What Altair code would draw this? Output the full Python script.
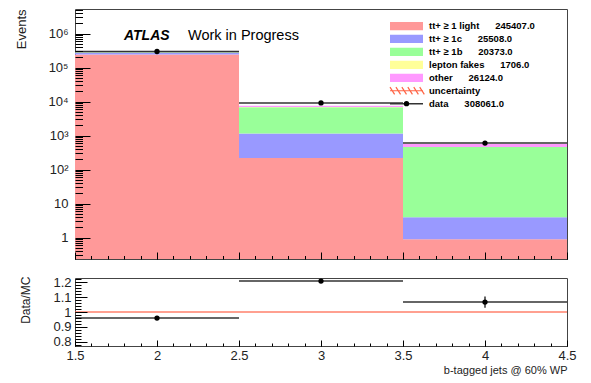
import altair as alt
import pandas as pd

FONT = "Liberation Sans"

# ---------------- data ----------------
bin_lo = [1.5, 2.5, 3.5]
bin_hi = [2.5, 3.5, 4.5]
bin_center = [2.0, 3.0, 4.0]

components = ["tt+ ≥ 1 light", "tt+ ≥ 1c", "tt+ ≥ 1b", "lepton fakes", "other"]
component_totals = ["245407.0", "25508.0", "20373.0", "1706.0", "26124.0"]
colors = ["#ff9999", "#9999ff", "#99ff99", "#ffff99", "#ff99ff"]

light = [245186, 220, 0.9]
one_c = [24575, 930, 3.1]
one_b = [14165, 5750, 458]
fakes = [1653, 50, 3]
other = [25372, 650, 102]

data_counts = [298266, 9190, 605]
data_total = "308061.0"

ratio = [0.959, 1.209, 1.067]
ratio_err = [0.002, 0.013, 0.038]

x_major = [1.5, 2.0, 2.5, 3.0, 3.5, 4.0, 4.5]
y_major = [1, 10, 100, 1e3, 1e4, 1e5, 1e6]
r_major = [0.8, 0.9, 1.0, 1.1, 1.2]

# ---------------- derived tables ----------------
Y_DOM = [0.236, 5.3e6]
R_DOM = [0.77, 1.23]
series = [light, one_c, one_b, fakes, other]

stack_rows = []
for b in range(3):
    cum = 0.0
    for name, vals in zip(components, series):
        bottom = cum if cum > 0 else 1e-3
        cum += vals[b]
        stack_rows.append(dict(lo=bin_lo[b], hi=bin_hi[b], y0=bottom, y1=cum, comp=name))
stack_df = pd.DataFrame(stack_rows)

data_df = pd.DataFrame({
    "lo": bin_lo, "hi": bin_hi, "x": bin_center, "n": data_counts,
    "nlo": [v - v ** 0.5 for v in data_counts], "nhi": [v + v ** 0.5 for v in data_counts],
})
ratio_df = pd.DataFrame({
    "lo": bin_lo, "hi": bin_hi, "x": bin_center, "r": ratio,
    "rlo": [r - e for r, e in zip(ratio, ratio_err)],
    "rhi": [r + e for r, e in zip(ratio, ratio_err)],
})
one_df = pd.DataFrame({"x": [x_major[0]], "x2": [x_major[-1]], "y": [1.0]})

NB = "\u00a0" * 6
legend_labels = [c + NB + t for c, t in zip(components, component_totals)] + ["uncertainty", "data" + NB + data_total]
legend_df = pd.DataFrame({"row": list(range(7)), "label": legend_labels,
                          "comp": components + ["uncertainty", "data"]})

x_minor = [round(1.5 + 0.1 * i, 2) for i in range(31)]
y_minor = [k * 10 ** n for n in range(-1, 7) for k in range(2, 10) if Y_DOM[0] <= k * 10 ** n <= Y_DOM[1]]
r_minor = [round(0.78 + 0.02 * i, 2) for i in range(23)]

# ---------------- scales ----------------
xs = alt.Scale(domain=[1.5, 4.5], nice=False, zero=False)
ys = alt.Scale(type="log", domain=Y_DOM, clamp=True, nice=False)
rs = alt.Scale(domain=R_DOM, nice=False, zero=False)
cs = alt.Scale(domain=components, range=colors)
rowscale = alt.Scale(domain=[0, 6], range=[0, 77.7])


def tick_axis(orient, values, length):
    return alt.Axis(orient=orient, values=values, offset=-length, tickSize=length,
                    labels=False, domain=False, grid=False, title=None,
                    tickColor="#000", tickWidth=1, zindex=1)


sup = "['','','\u00b2','\u00b3','\u2074','\u2075','\u2076']"
y_label_axis = alt.Axis(
    orient="left", values=y_major, ticks=False, domain=False, grid=False, labelFlush=False,
    labelExpr=f"datum.value < 5 ? '1' : datum.value < 50 ? '10' : '10' + {sup}[round(log(datum.value)/LN10)]",
    labelPadding=7, labelFontSize=13, labelFont=FONT, labelColor="#222",
    title="Events", titleX=-54, titleY=0, titleAngle=270, titleAlign="right",
    titleBaseline="middle", titleFontSize=13, titleFont=FONT, titleFontWeight="normal",
    titleColor="#222")

# ---------------- main panel ----------------
bars = alt.Chart(stack_df).mark_rect(strokeWidth=0).encode(
    x=alt.X("lo:Q", scale=xs, axis=tick_axis("bottom", x_major, 7)),
    x2="hi:Q",
    y=alt.Y("y0:Q", scale=ys, axis=y_label_axis),
    y2="y1:Q",
    color=alt.Color("comp:N", scale=cs, legend=None),
)
d_h = alt.Chart(data_df).mark_rule(color="#333", strokeWidth=1.5).encode(
    x=alt.X("lo:Q", scale=xs, axis=tick_axis("bottom", x_minor, 3.5)),
    x2="hi:Q",
    y=alt.Y("n:Q", scale=ys, axis=tick_axis("left", y_major, 15)),
)
d_v = alt.Chart(data_df).mark_rule(color="#333", strokeWidth=1.5).encode(
    x=alt.X("x:Q", scale=xs, axis=None),
    y=alt.Y("nlo:Q", scale=ys, axis=tick_axis("left", y_minor, 7.5)),
    y2="nhi:Q",
)
d_p = alt.Chart(data_df).mark_circle(size=28, color="black", opacity=1).encode(
    x=alt.X("x:Q", scale=xs, axis=None),
    y=alt.Y("n:Q", scale=ys, axis=None),
)
atlas = alt.Chart(pd.DataFrame({"t": ["ATLAS"]})).mark_text(
    align="left", baseline="alphabetic", font=FONT, fontSize=14, fontWeight="bold",
    fontStyle="italic", color="black").encode(x=alt.value(49), y=alt.value(31), text="t:N")
wip = alt.Chart(pd.DataFrame({"t": ["Work in Progress"]})).mark_text(
    align="left", baseline="alphabetic", font=FONT, fontSize=14.5, color="black").encode(
    x=alt.value(113), y=alt.value(31), text="t:N")

RECT = "M-1,-0.25H1V0.25H-1Z"
HATCH = "M-1,0H1 " + " ".join(f"M{-1 + 0.36 * i:.2f},-0.22L{-0.72 + 0.36 * i:.2f},0.22" for i in range(6))
leg_sw = alt.Chart(legend_df.iloc[:5]).mark_point(
    shape=RECT, filled=True, size=1089, opacity=1, strokeWidth=0).encode(
    x=alt.value(331.5), y=alt.value(17),
    yOffset=alt.YOffset("row:Q", scale=rowscale),
    color=alt.Color("comp:N", scale=cs, legend=None))
leg_hatch = alt.Chart(legend_df.iloc[5:6]).mark_point(
    shape=HATCH, filled=False, size=1089, opacity=0.9, strokeWidth=1.2, color="#ff5533").encode(
    x=alt.value(331.5), y=alt.value(17), yOffset=alt.YOffset("row:Q", scale=rowscale))
leg_line = alt.Chart(legend_df.iloc[6:7]).mark_point(
    shape="M-1,0L1,0", filled=False, size=1089, opacity=1, strokeWidth=1.5, color="#333").encode(
    x=alt.value(331.5), y=alt.value(17), yOffset=alt.YOffset("row:Q", scale=rowscale))
leg_dot = alt.Chart(legend_df.iloc[6:7]).mark_circle(size=28, color="black", opacity=1).encode(
    x=alt.value(331.5), y=alt.value(17), yOffset=alt.YOffset("row:Q", scale=rowscale))
leg_txt = alt.Chart(legend_df).mark_text(
    align="left", baseline="middle", font=FONT, fontSize=9.5, fontWeight="bold", color="black").encode(
    x=alt.value(354), y=alt.value(17), yOffset=alt.YOffset("row:Q", scale=rowscale), text="label:N")

main = alt.layer(bars, d_h, d_v, d_p, atlas, wip, leg_sw, leg_hatch, leg_line, leg_dot, leg_txt).resolve_axis(
    x="independent", y="independent").properties(width=492, height=250)

# ---------------- ratio panel ----------------
r_line = alt.Chart(one_df).mark_rule(color="#ff6a50", strokeWidth=1.5, opacity=0.85).encode(
    x=alt.X("x:Q", scale=xs, axis=alt.Axis(
        orient="bottom", values=x_major, ticks=False, domain=False, grid=False, format="~g",
        labelFlush=False, labelPadding=3, labelFontSize=13, labelFont=FONT, labelColor="#222",
        title="b-tagged jets @ 60% WP", titleX=492, titleY=24, titleAlign="right",
        titleAnchor="end", titleBaseline="middle", titleFontSize=11, titleFont=FONT,
        titleFontWeight="normal", titleColor="#222")),
    x2="x2:Q",
    y=alt.Y("y:Q", scale=rs, axis=alt.Axis(
        orient="left", values=r_major, ticks=False, domain=False, grid=False, format="~g",
        labelFlush=False, labelPadding=4, labelFontSize=13, labelFont=FONT, labelColor="#222",
        title="Data/MC", titleX=-50, titleY=-2, titleAngle=270, titleAlign="right",
        titleBaseline="middle", titleFontSize=12, titleFont=FONT, titleFontWeight="normal",
        titleColor="#222")),
)
r_h = alt.Chart(ratio_df).mark_rule(color="#333", strokeWidth=1.5).encode(
    x=alt.X("lo:Q", scale=xs, axis=tick_axis("bottom", x_major, 6)),
    x2="hi:Q",
    y=alt.Y("r:Q", scale=rs, axis=tick_axis("left", r_major, 12)),
)
r_v = alt.Chart(ratio_df).mark_rule(color="#333", strokeWidth=1.5).encode(
    x=alt.X("x:Q", scale=xs, axis=tick_axis("bottom", x_minor, 3)),
    y=alt.Y("rlo:Q", scale=rs, axis=tick_axis("left", r_minor, 6)),
    y2="rhi:Q",
)
r_p = alt.Chart(ratio_df).mark_circle(size=28, color="black", opacity=1).encode(
    x=alt.X("x:Q", scale=xs, axis=None),
    y=alt.Y("r:Q", scale=rs, axis=None),
)
ratio_panel = alt.layer(r_line, r_h, r_v, r_p).resolve_axis(
    x="independent", y="independent").properties(width=492, height=68)

chart = alt.vconcat(main, ratio_panel, spacing=15).properties(
    padding={"left": 6, "top": 0, "right": 5, "bottom": 5}
).configure_view(stroke="#444", strokeWidth=1)

chart.save("out.html", embed_options={"renderer": "svg", "actions": False})
